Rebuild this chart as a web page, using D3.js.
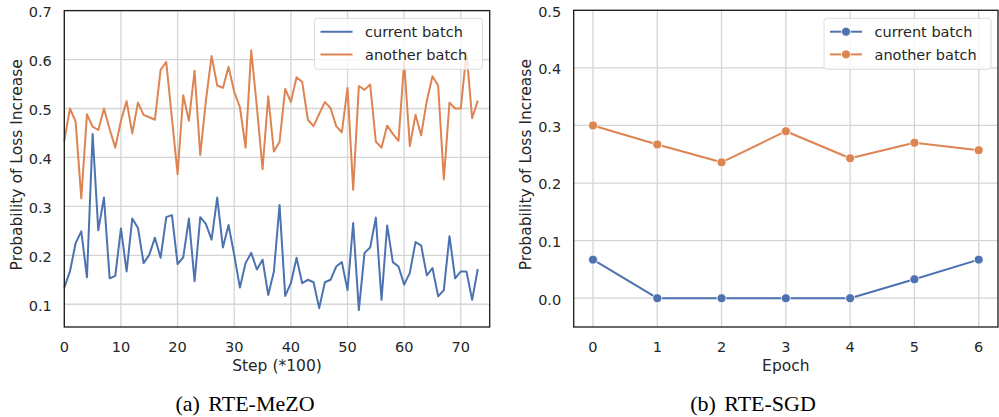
<!DOCTYPE html>
<html>
<head>
<meta charset="utf-8">
<script src="https://cdn.jsdelivr.net/npm/d3@7"></script>
<style>
  body { margin: 0; background: #fff; }
  text { font-family: "DejaVu Sans", sans-serif; fill: #262626; }
  .caption { font-family: "Liberation Serif", "Times New Roman", serif; fill: #000; }
</style>
</head>
<body>
<svg id="chart" width="999" height="417"></svg>
<script>
// left panel: RTE-MeZO, step index (*100)
const mezo_current = [0.134, 0.167, 0.225, 0.249, 0.155, 0.448, 0.251, 0.318, 0.153, 0.158,
  0.255, 0.167, 0.275, 0.256, 0.184, 0.201, 0.236, 0.195, 0.278, 0.282,
  0.182, 0.196, 0.275, 0.147, 0.278, 0.264, 0.232, 0.318, 0.216, 0.262,
  0.201, 0.134, 0.184, 0.205, 0.171, 0.191, 0.119, 0.167, 0.303, 0.117,
  0.143, 0.195, 0.143, 0.150, 0.145, 0.092, 0.145, 0.150, 0.177, 0.186,
  0.129, 0.266, 0.088, 0.205, 0.216, 0.277, 0.109, 0.261, 0.186, 0.177,
  0.140, 0.164, 0.227, 0.220, 0.159, 0.174, 0.116, 0.129, 0.239, 0.153,
  0.167, 0.167, 0.109, 0.172];
const mezo_another = [0.434, 0.500, 0.473, 0.316, 0.488, 0.463, 0.456, 0.500, 0.458, 0.420,
  0.475, 0.515, 0.449, 0.512, 0.487, 0.482, 0.477, 0.579, 0.595, 0.480,
  0.366, 0.527, 0.475, 0.577, 0.405, 0.516, 0.607, 0.547, 0.542, 0.585,
  0.534, 0.503, 0.420, 0.619, 0.503, 0.376, 0.525, 0.412, 0.432, 0.540,
  0.513, 0.564, 0.554, 0.477, 0.464, 0.489, 0.513, 0.501, 0.464, 0.451,
  0.542, 0.334, 0.546, 0.538, 0.549, 0.432, 0.420, 0.465, 0.448, 0.434,
  0.595, 0.423, 0.487, 0.445, 0.516, 0.566, 0.547, 0.355, 0.512, 0.500,
  0.500, 0.615, 0.480, 0.516];
const mezo_xticks = [0, 10, 20, 30, 40, 50, 60, 70];
const mezo_yticks = [0.1, 0.2, 0.3, 0.4, 0.5, 0.6, 0.7];

// right panel: RTE-SGD, per epoch
const epochs = [0, 1, 2, 3, 4, 5, 6];
const sgd_current = [0.067, 0, 0, 0, 0, 0.033, 0.067];
const sgd_another = [0.300, 0.267, 0.236, 0.290, 0.243, 0.270, 0.257];
const sgd_yticks = [0.0, 0.1, 0.2, 0.3, 0.4, 0.5];

const series_names = ["current batch", "another batch"];
const colors = ["#4c72b0", "#dd8452"];

const svg = d3.select("#chart");

function panel(opt) {
  const g = svg.append("g");
  const x = d3.scaleLinear().domain(opt.xdomain).range([opt.left, opt.right]);
  const y = d3.scaleLinear().domain(opt.ydomain).range([opt.bottom, opt.top]);

  // grid
  g.selectAll(".gx").data(opt.xticks).join("line")
    .attr("x1", d => x(d)).attr("x2", d => x(d))
    .attr("y1", opt.top).attr("y2", opt.bottom)
    .attr("stroke", "#d5d5d5").attr("stroke-width", 1.3);
  g.selectAll(".gy").data(opt.yticks).join("line")
    .attr("y1", d => y(d)).attr("y2", d => y(d))
    .attr("x1", opt.left).attr("x2", opt.right)
    .attr("stroke", "#d5d5d5").attr("stroke-width", 1.3);

  // tick labels
  g.selectAll(".tx").data(opt.xticks).join("text")
    .attr("x", d => x(d)).attr("y", opt.bottom + 25)
    .attr("text-anchor", "middle").attr("font-size", 14.5)
    .text(d => d);
  g.selectAll(".ty").data(opt.yticks).join("text")
    .attr("x", opt.left - 12.5).attr("y", d => y(d) + 6.3)
    .attr("text-anchor", "end").attr("font-size", 14.5)
    .text(d => d3.format(".1f")(d));

  // lines
  const line = d3.line().x((d, i) => x(opt.xs[i])).y(d => y(d));
  opt.series.forEach((s, k) => {
    g.append("path").datum(s).attr("d", line)
      .attr("fill", "none").attr("stroke", colors[k])
      .attr("stroke-width", 2).attr("stroke-linejoin", "round");
    if (opt.markers) {
      g.selectAll(null).data(s).join("circle")
        .attr("cx", (d, i) => x(opt.xs[i])).attr("cy", d => y(d))
        .attr("r", 4.5).attr("fill", colors[k])
        .attr("stroke", "#fff").attr("stroke-width", 0.8);
    }
  });

  // frame
  g.append("rect")
    .attr("x", opt.left).attr("y", opt.top)
    .attr("width", opt.right - opt.left).attr("height", opt.bottom - opt.top)
    .attr("fill", "none").attr("stroke", "#1a1a1a").attr("stroke-width", 1.3);

  // axis labels
  g.append("text")
    .attr("x", (opt.left + opt.right) / 2).attr("y", opt.bottom + 44)
    .attr("text-anchor", "middle").attr("font-size", 15.5)
    .text(opt.xlabel);
  g.append("text")
    .attr("transform", `translate(${opt.ylabelX},${(opt.top + opt.bottom) / 2 - 4}) rotate(-90)`)
    .attr("text-anchor", "middle").attr("font-size", 15.5)
    .text("Probability of Loss Increase");

  // legend
  const lg = g.append("g").attr("transform", `translate(${opt.legend[0]},${opt.legend[1]})`);
  lg.append("rect").attr("width", opt.legendW).attr("height", 51)
    .attr("rx", 3).attr("fill", "#fff").attr("fill-opacity", 0.8)
    .attr("stroke", "#dcdcdc").attr("stroke-width", 1);
  series_names.forEach((name, k) => {
    const yy = 13.4 + k * 22.7;
    lg.append("line").attr("x1", 6).attr("x2", 38).attr("y1", yy).attr("y2", yy)
      .attr("stroke", colors[k]).attr("stroke-width", 2);
    if (opt.markers) {
      lg.append("circle").attr("cx", 22).attr("cy", yy).attr("r", 4.5)
        .attr("fill", colors[k]).attr("stroke", "#fff").attr("stroke-width", 0.8);
    }
    lg.append("text").attr("x", 50.5).attr("y", yy + 5.3)
      .attr("font-size", 14.5).text(name);
  });

  // caption
  svg.append("text").attr("class", "caption")
    .attr("x", opt.captionX).attr("y", 411)
    .attr("text-anchor", "middle").attr("font-size", 22)
    .attr("word-spacing", 3)
    .text(opt.caption);
}

panel({
  left: 64.3, right: 489.7, top: 10.6, bottom: 327,
  xdomain: [0, 75.1], ydomain: [0.0535, 0.7],
  xticks: mezo_xticks, yticks: mezo_yticks,
  xs: d3.range(mezo_current.length),
  series: [mezo_current, mezo_another],
  markers: false,
  xlabel: "Step (*100)", ylabelX: 21.5,
  legend: [314.5, 18.3], legendW: 168,
  caption: "(a) RTE-MeZO", captionX: 245
});

panel({
  left: 573.7, right: 998, top: 10.3, bottom: 327,
  xdomain: [-0.3, 6.3], ydomain: [-0.05, 0.5],
  xticks: epochs, yticks: sgd_yticks,
  xs: epochs,
  series: [sgd_current, sgd_another],
  markers: true,
  xlabel: "Epoch", ylabelX: 531,
  legend: [824, 18.3], legendW: 167,
  caption: "(b) RTE-SGD", captionX: 753
});
</script>
</body>
</html>
